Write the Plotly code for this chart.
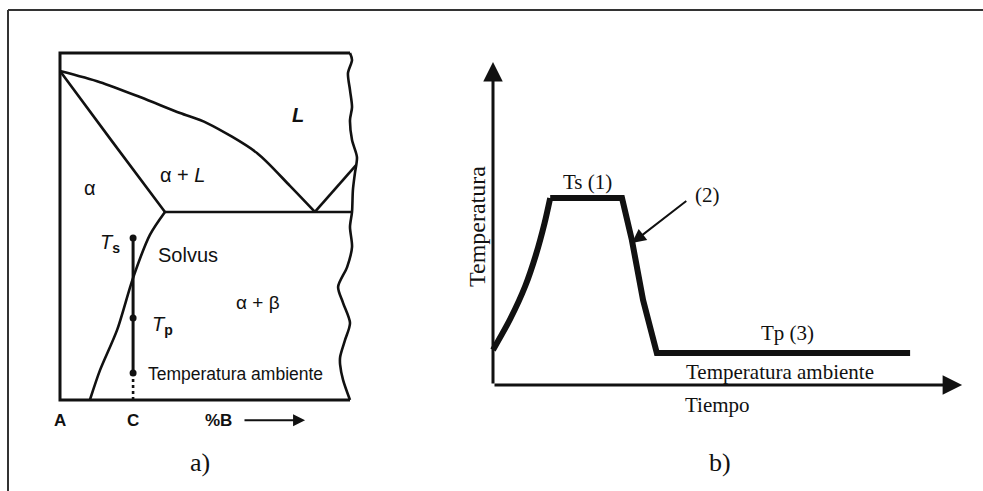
import plotly.graph_objects as go

W, H = 983, 491

# ---------------- Panel a) : phase diagram (x = %B units, y = temperature units)
box_x = [100, 0, 0, 100]
box_y = [100, 100, 0, 0]
edge_x = [100, 100.7, 99.3, 100, 100.7, 100, 100.7, 102.4, 101.7, 101.0, 100.7, 100,
          100.7, 99.0, 95.9, 97.6, 100, 98.3, 96.6, 96.6, 97.6, 100]
edge_y = [100, 98.0, 94.2, 89.3, 84.4, 80.7, 74.9, 70.0, 65.4, 60.5, 54.2, 49.9,
          44.1, 38.3, 32.6, 28.0, 22.2, 17.3, 12.4, 10.1, 5.8, 0]
solidus_x = [0, 17.9, 36.2]
solidus_y = [94.8, 74.6, 54.2]
liquidus_x = [0, 13.8, 27.6, 41.4, 50.7, 67.9, 79.3, 87.9]
liquidus_y = [94.8, 91.6, 87.3, 82.7, 79.8, 71.2, 61.7, 54.2]
eutectic_x = [36.2, 100.7]
eutectic_y = [54.2, 54.2]
liqB_x = [87.9, 102.1]
liqB_y = [54.2, 67.7]
solvus_x = [36.2, 31.0, 25.2, 19.7, 13.8, 10.3]
solvus_y = [54.2, 47.6, 35.2, 20.2, 8.6, 0]
alloy_c = 25.2
t_s, t_p, t_amb = 46.7, 23.6, 7.8

# ---------------- Panel b) : heat treatment (x = time units, y = temperature units)
heat_time = [0, 4.0, 7.5, 10.0, 12.0, 13.3]
heat_temp = [11.7, 22.0, 33.0, 43.5, 54.0, 62.3]
rest_time = [13.3, 30.0, 32.3, 34.9, 38.1, 97.0]
rest_temp = [62.3, 62.3, 48.3, 28.3, 10.7, 10.7]
x_tip, y_tip = 109.1, 107.7

# ---------------- layout helpers (pixel -> domain / range)
def xdom(p0, p1):
    return [p0 / W, p1 / W]

def ydom(p_bottom, p_top):
    return [1 - p_bottom / H, 1 - p_top / H]

fig = go.Figure()
blk = "#111111"

def line(x, y, xa, ya, w=2.6, dash="solid", shape="linear"):
    fig.add_trace(go.Scatter(x=x, y=y, mode="lines", xaxis=xa, yaxis=ya,
                             line=dict(color=blk, width=w, dash=dash, shape=shape,
                                       smoothing=0.8),
                             hoverinfo="skip", showlegend=False))

# panel a lines
line(box_x, box_y, "x", "y", 3)
line(edge_x, edge_y, "x", "y", 2.6, shape="spline")
line(solidus_x, solidus_y, "x", "y", 2.6, shape="spline")
line(liquidus_x, liquidus_y, "x", "y", 2.6, shape="spline")
line(eutectic_x, eutectic_y, "x", "y", 2.6)
line(liqB_x, liqB_y, "x", "y", 2.6)
line(solvus_x, solvus_y, "x", "y", 2.6, shape="spline")
line([alloy_c, alloy_c], [t_s, t_amb], "x", "y", 3)
line([alloy_c, alloy_c], [t_amb, 0], "x", "y", 2.6, "dot")
fig.add_trace(go.Scatter(x=[alloy_c] * 3, y=[t_s, t_p, t_amb], mode="markers",
                         xaxis="x", yaxis="y", marker=dict(color=blk, size=7),
                         hoverinfo="skip", showlegend=False))

# panel b curve: curved heating part, then straight hold / quench / hold
line(heat_time, heat_temp, "x2", "y2", 6, shape="spline")
line(rest_time, rest_temp, "x2", "y2", 6)

sans = "Liberation Sans, Arial, sans-serif"
serif = "Liberation Serif, Times New Roman, serif"

ann = []
def txt(x, y, s, xref, yref, size, fam, xanchor="center", angle=0):
    ann.append(dict(x=x, y=y, xref=xref, yref=yref, text=s, showarrow=False,
                    xanchor=xanchor, yanchor="middle", textangle=angle,
                    font=dict(family=fam, size=size, color=blk)))

# panel a text
txt(82.1, 82.1, "<b><i>L</i></b>", "x", "y", 20, sans)
txt(42.4, 64.8, "α + <i>L</i>", "x", "y", 20, sans)
txt(10.3, 61.1, "α", "x", "y", 20, sans)
txt(17.2, 45.2, "<i>T</i><sub><b>s</b></sub>", "x", "y", 20, sans)
txt(44.1, 41.8, "Solvus", "x", "y", 20, sans)
txt(68.3, 28.2, "α + β", "x", "y", 19, sans)
txt(31.0, 21.6, "<i>T</i><sub><b>p</b></sub>", "x", "y", 20, sans, "left")
txt(29.6, 7.6, "Temperatura ambiente", "x", "y", 17.5, sans, "left")
txt(0, -5.8, "<b>A</b>", "x", "y", 17, sans)
txt(25.2, -5.8, "<b>C</b>", "x", "y", 17, sans)
txt(54.5, -5.8, "<b>%B</b>", "x", "y", 17, sans)
txt(48.3, -17.9, "a)", "x", "y", 26, serif)
ann.append(dict(x=84.5, y=-5.8, ax=63.1, ay=-5.8, xref="x", yref="y", axref="x", ayref="y",
                showarrow=True, arrowhead=2, arrowsize=1.2, arrowwidth=2, arrowcolor=blk,
                text=""))

# panel b text
txt(21.9, 67.7, "Ts (1)", "x2", "y2", 21, serif)
txt(49.8, 63.3, "(2)", "x2", "y2", 21, serif)
txt(68.4, 17.3, "Tp (3)", "x2", "y2", 21, serif)
txt(66.7, 4.3, "Temperatura ambiente", "x2", "y2", 21, serif)
txt(52.3, -6.7, "Tiempo", "x2", "y2", 21, serif)
txt(-3.7, 52.7, "Temperatura", "x2", "y2", 24, serif, angle=-90)
txt(52.8, -25.7, "b)", "x2", "y2", 26, serif)

# axes arrows and arrow (2)
for (x, y, ax_, ay_) in [(x_tip, 0, 0, 0), (0, y_tip, 0, 0)]:
    ann.append(dict(x=x, y=y, ax=ax_, ay=ay_, xref="x2", yref="y2", axref="x2", ayref="y2",
                    showarrow=True, arrowhead=2, arrowsize=1.3, arrowwidth=3,
                    arrowcolor=blk, text="", standoff=0))
ann.append(dict(x=32.3, y=47.3, ax=45.3, ay=61.7, xref="x2", yref="y2", axref="x2", ayref="y2",
                showarrow=True, arrowhead=2, arrowsize=1.4, arrowwidth=2,
                arrowcolor=blk, text="", standoff=0))

# frame (cropped border of the original figure)
shapes = [
    dict(type="line", xref="paper", yref="paper", x0=8 / W, x1=1, y0=1 - 10 / H, y1=1 - 10 / H,
         line=dict(color="#333333", width=2)),
    dict(type="line", xref="paper", yref="paper", x0=8 / W, x1=8 / W, y0=0, y1=1 - 10 / H,
         line=dict(color="#333333", width=2)),
]

ax_common = dict(visible=False, fixedrange=True)
fig.update_layout(
    width=W, height=H, margin=dict(l=0, r=0, t=0, b=0),
    paper_bgcolor="white", plot_bgcolor="white",
    xaxis=dict(domain=xdom(40, 380), range=[(40 - 60) / 2.9, (380 - 60) / 2.9], **ax_common),
    yaxis=dict(domain=ydom(480, 40), range=[(400 - 480) / 3.47, (400 - 40) / 3.47], **ax_common),
    xaxis2=dict(domain=xdom(460, 975), range=[(460 - 493) / 4.3, (975 - 493) / 4.3], **ax_common),
    yaxis2=dict(domain=ydom(480, 50), range=[(385 - 480) / 3.0, (385 - 50) / 3.0], **ax_common),
    annotations=ann, shapes=shapes, showlegend=False,
)

fig.write_html("out.html")
